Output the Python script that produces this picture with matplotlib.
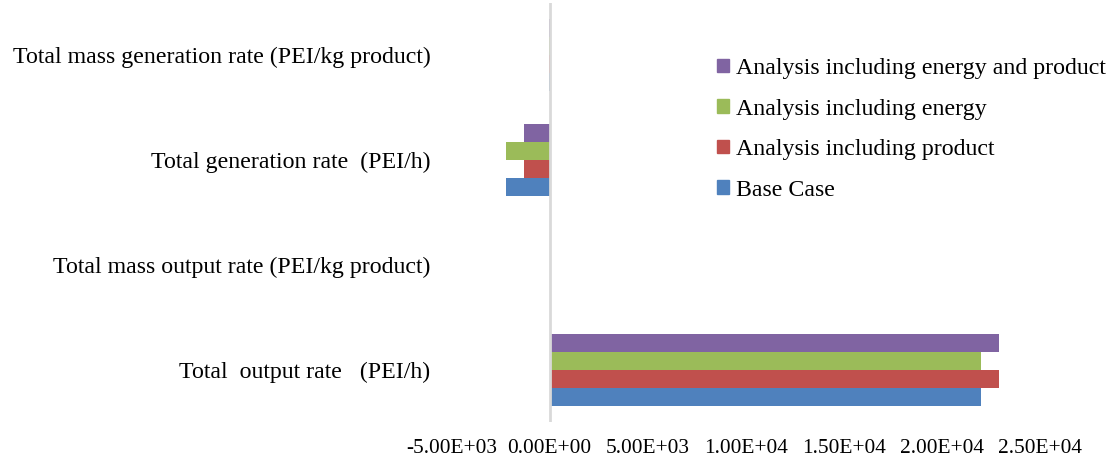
import matplotlib
matplotlib.use("Agg")
import matplotlib.pyplot as plt
import matplotlib.patches as mpatches
import numpy as np

# categories, bottom to top as drawn
categories = [
    "Total  output rate   (PEI/h)",
    "Total mass output rate (PEI/kg product)",
    "Total generation rate  (PEI/h)",
    "Total mass generation rate (PEI/kg product)",
]

series_names = [
    "Base Case",
    "Analysis including product",
    "Analysis including energy",
    "Analysis including energy and product",
]

# values per series, same order as categories
base_case = [2.20e4, 2.2, -2.22e3, -0.2]
incl_product = [2.29e4, 2.3, -1.28e3, -0.1]
incl_energy = [2.20e4, 2.2, -2.22e3, -0.2]
incl_energy_product = [2.29e4, 2.3, -1.28e3, -0.1]

series_values = [base_case, incl_product, incl_energy, incl_energy_product]
colors = ["#4F81BD", "#C0504D", "#9BBB59", "#8064A2"]

x_ticks = [-5e3, 0, 5e3, 1e4, 1.5e4, 2e4, 2.5e4]

plt.rcParams["font.family"] = ["Liberation Serif", "DejaVu Serif"]
FS = 17.2
FS_TICK = 15.4

fig = plt.figure(figsize=(11.13, 4.63), dpi=100)
W, H = 1113, 463
ax = fig.add_axes([451.4 / W, 1 - 422 / H, (1040 - 451.4) / W, (422 - 3) / H])

y = np.arange(len(categories))
bar_h = 0.172

for i, (vals, col) in enumerate(zip(series_values, colors)):
    offs = (i - 1.5) * bar_h
    ax.barh(y + offs, vals, height=bar_h, color=col, linewidth=0, zorder=2)

ax.set_xlim(-5e3, 2.5e4)
ax.set_ylim(-0.5, len(categories) - 0.5)
ax.set_xticks(x_ticks)
ax.set_xticklabels([f"{v:.2E}" for v in x_ticks])
ax.set_yticks(y)
ax.set_yticklabels(categories)
ax.tick_params(axis="x", length=0, pad=12, labelsize=FS_TICK)
ax.tick_params(axis="y", length=0, pad=15, labelsize=FS)

for s in ax.spines.values():
    s.set_visible(False)
# zero line drawn over the bars so near-zero values leave no sliver
ax.axvline(0, color="#D9D9D9", linewidth=2, zorder=3)

handles = [mpatches.Patch(color=c, label=n) for c, n in zip(colors, series_names)]
fig.legend(handles=handles[::-1], loc="upper left",
           bbox_to_anchor=(705 / W, 1 - 46 / H), frameon=False,
           fontsize=FS, handlelength=0.5, handleheight=0.5,
           handletextpad=0.3, labelspacing=0.82, borderpad=0)

fig.savefig("out.png", dpi=100)
